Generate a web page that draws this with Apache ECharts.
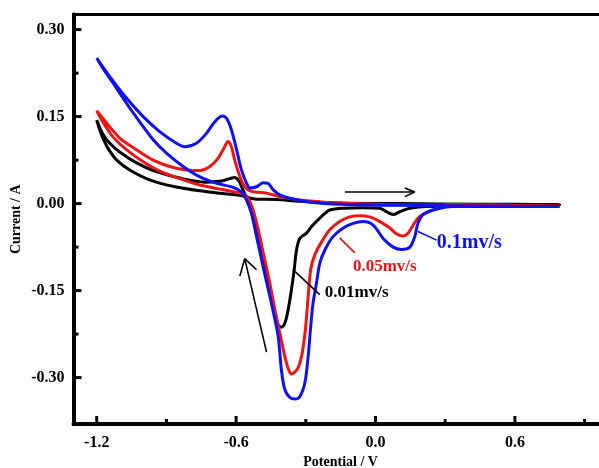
<!DOCTYPE html>
<html>
<head>
<meta charset="utf-8">
<script src="https://cdn.jsdelivr.net/npm/echarts@6/dist/echarts.min.js"></script>
<style>
html,body{margin:0;padding:0;background:#fff;}
#main{width:599px;height:468px;}
</style>
</head>
<body>
<div id="main"></div>
<script>
// ---- data: [potential (V), current (A)] ----
const curve001 = [
  [-1.20,0.144],[-1.174,0.120],[-1.144,0.104],[-1.101,0.089],[-1.036,0.072],[-0.950,0.056],
  [-0.842,0.044],[-0.735,0.037],[-0.662,0.039],[-0.627,0.043],[-0.606,0.045],[-0.588,0.039],
  [-0.571,0.024],[-0.554,0.012],[-0.520,0.008],[-0.425,0.007],[-0.326,0.004],[-0.154,0.001],
  [0.105,0.000],[0.449,-0.001],[0.793,-0.002],
  [0.334,-0.005],[0.220,-0.005],[0.148,-0.008],[0.105,-0.014],[0.076,-0.019],[0.047,-0.014],
  [0.019,-0.008],[-0.053,-0.007],[-0.139,-0.008],[-0.197,-0.011],[-0.218,-0.017],[-0.247,-0.028],
  [-0.276,-0.040],[-0.297,-0.051],[-0.326,-0.060],[-0.340,-0.080],[-0.350,-0.114],[-0.362,-0.149],
  [-0.376,-0.183],[-0.390,-0.206],[-0.405,-0.213],[-0.419,-0.209],[-0.433,-0.189],[-0.455,-0.155],
  [-0.477,-0.114],[-0.498,-0.074],[-0.520,-0.034],[-0.541,-0.005],[-0.563,0.012],[-0.649,0.017],
  [-0.756,0.022],[-0.863,0.029],[-0.972,0.041],[-1.058,0.058],[-1.114,0.075],[-1.148,0.093],
  [-1.170,0.110],[-1.187,0.127],[-1.20,0.144]
];
const curve005 = [
  [-1.20,0.160],[-1.158,0.139],[-1.101,0.113],[-1.029,0.093],[-0.957,0.075],[-0.886,0.064],
  [-0.814,0.058],[-0.756,0.057],[-0.713,0.064],[-0.678,0.078],[-0.649,0.098],[-0.635,0.107],
  [-0.620,0.098],[-0.606,0.075],[-0.584,0.047],[-0.563,0.029],[-0.534,0.021],[-0.469,0.018],
  [-0.412,0.012],[-0.326,0.006],[-0.211,0.002],[-0.154,0.001],[0.105,-0.002],[0.449,-0.003],[0.793,-0.004],
  [0.306,-0.002],[0.248,-0.011],[0.191,-0.022],[0.162,-0.037],[0.140,-0.051],[0.119,-0.056],
  [0.090,-0.052],[0.062,-0.042],[0.019,-0.031],[-0.025,-0.023],[-0.068,-0.021],[-0.111,-0.023],
  [-0.154,-0.031],[-0.197,-0.045],[-0.232,-0.066],[-0.261,-0.088],[-0.279,-0.114],[-0.291,-0.166],
  [-0.302,-0.218],[-0.317,-0.261],[-0.334,-0.284],[-0.352,-0.292],[-0.362,-0.294],[-0.376,-0.284],
  [-0.390,-0.264],[-0.412,-0.223],[-0.433,-0.183],[-0.455,-0.137],[-0.480,-0.091],[-0.505,-0.045],
  [-0.527,-0.011],[-0.548,0.009],[-0.570,0.017],[-0.606,0.020],[-0.670,0.025],[-0.756,0.032],
  [-0.842,0.043],[-0.929,0.056],[-1.000,0.072],[-1.072,0.093],[-1.130,0.115],[-1.174,0.141],[-1.20,0.160]
];
const curve01 = [
  [-1.20,0.251],[-1.144,0.219],[-1.072,0.182],[-1.000,0.150],[-0.929,0.124],[-0.857,0.104],
  [-0.821,0.098],[-0.771,0.104],[-0.728,0.121],[-0.692,0.141],[-0.660,0.151],[-0.641,0.147],
  [-0.620,0.127],[-0.598,0.093],[-0.577,0.058],[-0.555,0.035],[-0.541,0.027],[-0.512,0.029],
  [-0.484,0.036],[-0.462,0.035],[-0.441,0.024],[-0.412,0.015],[-0.355,0.008],[-0.269,0.002],
  [-0.154,-0.001],[0.105,-0.003],[0.449,-0.004],[0.793,-0.005],
  [0.334,-0.005],[0.248,-0.011],[0.205,-0.019],[0.183,-0.034],[0.169,-0.057],[0.148,-0.075],
  [0.112,-0.079],[0.076,-0.075],[0.033,-0.060],[-0.010,-0.037],[-0.053,-0.031],[-0.096,-0.034],
  [-0.139,-0.042],[-0.183,-0.057],[-0.218,-0.080],[-0.240,-0.103],[-0.254,-0.137],[-0.269,-0.172],
  [-0.279,-0.212],[-0.290,-0.264],[-0.304,-0.309],[-0.326,-0.333],[-0.347,-0.337],[-0.369,-0.334],
  [-0.390,-0.321],[-0.405,-0.287],[-0.419,-0.229],[-0.448,-0.172],[-0.481,-0.114],[-0.512,-0.057],
  [-0.534,-0.017],[-0.555,0.006],[-0.577,0.020],[-0.613,0.028],[-0.684,0.035],[-0.756,0.046],
  [-0.828,0.064],[-0.900,0.087],[-0.957,0.110],[-1.015,0.141],[-1.072,0.173],[-1.130,0.208],
  [-1.173,0.233],[-1.20,0.251]
];

// ---- axis ticks ----
const xMajorTicks = [-1.2, -0.6, 0.0, 0.6];
const xMinorTicks = [-0.9, -0.3, 0.3, 0.9];
const yMajorTicks = [-0.30, -0.15, 0.00, 0.15, 0.30];
const yMinorTicks = [-0.225, -0.075, 0.075, 0.225];
const xRange = [-1.3, 1.0];
const yRange = [-0.38, 0.326];

// ---- annotations (data coordinates) ----
const seriesNames = ['0.01mv/s', '0.05mv/s', '0.1mv/s'];
const labelAnchors = [[-0.218, -0.154], [-0.097, -0.109], [0.264, -0.068]];
const leaderLines = [
  [[-0.347, -0.117], [-0.240, -0.157]],
  [[-0.154, -0.059], [-0.089, -0.085]],
  [[0.183, -0.048], [0.263, -0.063]]
];
const arrowRight = [[-0.132, 0.020], [0.169, 0.020], [0.126, 0.027], [0.126, 0.012]];
const arrowUp = [[-0.469, -0.256], [-0.563, -0.095], [-0.584, -0.125], [-0.512, -0.114]];

const FONT = '"Liberation Serif", "Times New Roman", serif';
const colors = ['#000000', '#f01414', '#1010f5'];
const labelSizes = [17, 17, 20];
const curves = [curve001, curve005, curve01];

const chart = echarts.init(document.getElementById('main'), null, {renderer: 'canvas'});

function seg(a, b) { return [{coord: a}, {coord: b}]; }

const series = curves.map((c, i) => ({
  name: seriesNames[i],
  type: 'line',
  data: c,
  smooth: 0.3,
  showSymbol: false,
  symbol: 'none',
  lineStyle: {color: colors[i], width: 3},
  z: 2 + i,
  animation: false,
  markLine: {
    silent: true, symbol: ['none', 'none'], animation: false,
    lineStyle: {color: colors[i], width: 1.6, type: 'solid'},
    label: {show: false},
    data: [seg(leaderLines[i][0], leaderLines[i][1])]
  },
  markPoint: {
    silent: true, symbol: 'circle', symbolSize: 0, animation: false,
    data: [{coord: labelAnchors[i]}],
    label: {
      show: true, formatter: seriesNames[i], position: [0, 0],
      align: 'left', verticalAlign: 'middle',
      color: colors[i], fontSize: labelSizes[i], fontWeight: 'bold', fontFamily: FONT
    }
  }
}));

series.push({
  type: 'line', data: [], animation: false,
  markLine: {
    silent: true, symbol: ['none', 'none'], animation: false,
    lineStyle: {color: '#000', width: 1.6, type: 'solid'},
    label: {show: false},
    data: [
      seg(arrowRight[0], arrowRight[1]), seg(arrowRight[1], arrowRight[2]), seg(arrowRight[1], arrowRight[3]),
      seg(arrowUp[0], arrowUp[1]), seg(arrowUp[1], arrowUp[2]), seg(arrowUp[1], arrowUp[3])
    ]
  }
});

// inside tick marks, placed through the axes' own scales
function tickSeries(values, isX, len) {
  return {
    type: 'custom', coordinateSystem: 'cartesian2d', silent: true, animation: false, z: 10,
    data: values.map(v => isX ? [v, yRange[0]] : [xRange[0], v]),
    encode: {x: 0, y: 1},
    renderItem: function (params, api) {
      const cs = params.coordSys;
      const p = api.coord([api.value(0), api.value(1)]);
      const shape = isX
        ? {x1: p[0], y1: cs.y + cs.height, x2: p[0], y2: cs.y + cs.height - len}
        : {x1: cs.x, y1: p[1], x2: cs.x + len, y2: p[1]};
      return {type: 'line', shape: shape, style: {stroke: '#000', lineWidth: 3}};
    }
  };
}
series.push(tickSeries(xMajorTicks, true, 8));
series.push(tickSeries(xMinorTicks, true, 5));
series.push(tickSeries(yMajorTicks, false, 8));
series.push(tickSeries(yMinorTicks, false, 5));

const labelStyle = {color: '#000', fontSize: 16, fontWeight: 'bold', fontFamily: FONT};
const nameStyle = {color: '#000', fontSize: 14, fontWeight: 'bold', fontFamily: FONT};

chart.setOption({
  backgroundColor: '#fff',
  animation: false,
  grid: {left: 73.5, top: 14.5, width: 534.3, height: 409.5, show: true, borderColor: '#000', borderWidth: 3,
         containLabel: false, outerBoundsMode: 'none'},
  xAxis: {
    type: 'value', min: xRange[0], max: xRange[1], position: 'bottom',
    axisLine: {show: true, onZero: false, lineStyle: {color: '#000', width: 4}},
    axisTick: {show: false},
    axisLabel: {show: true, customValues: xMajorTicks, margin: 11, formatter: v => v.toFixed(1), ...labelStyle},
    splitLine: {show: false},
    name: 'Potential / V', nameLocation: 'middle', nameGap: 31, nameMoveOverlap: false, nameTextStyle: nameStyle
  },
  yAxis: {
    type: 'value', min: yRange[0], max: yRange[1], position: 'left',
    axisLine: {show: true, onZero: false, lineStyle: {color: '#000', width: 4}},
    axisTick: {show: false},
    axisLabel: {show: true, customValues: yMajorTicks, margin: 9, formatter: v => v.toFixed(2), ...labelStyle},
    splitLine: {show: false},
    name: 'Current / A', nameLocation: 'middle', nameGap: 50, nameRotate: 90, nameMoveOverlap: false, nameTextStyle: nameStyle
  },
  series: series
});
</script>
</body>
</html>
